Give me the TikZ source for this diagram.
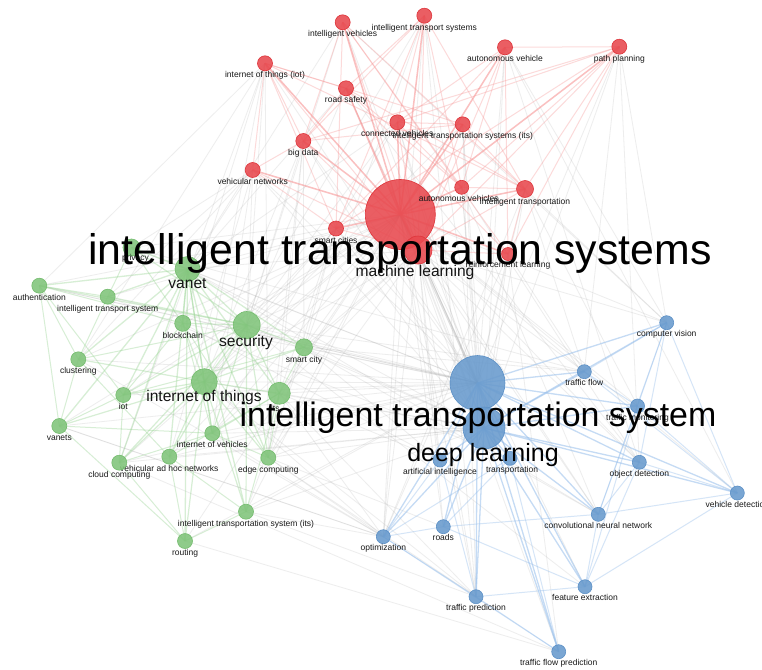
\documentclass[tikz,border=0pt]{standalone}
\usepackage{fontspec}
\setmainfont{Liberation Sans}
\pgfdeclarelayer{paper}
\pgfdeclarelayer{links}
\pgfsetlayers{paper,links,main}

\definecolor{redfill}{RGB}{232,72,78}
\definecolor{redline}{RGB}{222,52,58}
\definecolor{greenfill}{RGB}{128,196,122}
\definecolor{greenline}{RGB}{116,188,110}
\definecolor{bluefill}{RGB}{104,154,205}
\definecolor{blueline}{RGB}{92,144,198}
\definecolor{redlink}{RGB}{247,150,150}
\definecolor{greenlink}{RGB}{160,215,155}
\definecolor{bluelink}{RGB}{150,190,235}
\definecolor{greylink}{RGB}{175,175,175}

\tikzset{
  rkw/.style={circle, inner sep=0pt, minimum size=#1pt, draw=redline, fill=redfill, fill opacity=0.88, line width=0.6pt},
  gkw/.style={circle, inner sep=0pt, minimum size=#1pt, draw=greenline, fill=greenfill, fill opacity=0.88, line width=0.6pt},
  bkw/.style={circle, inner sep=0pt, minimum size=#1pt, draw=blueline, fill=bluefill, fill opacity=0.88, line width=0.6pt},
  lab/.style={font=\fontsize{8.5}{9}\selectfont, text=black!90, inner sep=0pt},
  every label/.style={lab},
  label distance=0.5pt,
  midlab/.style={font=\fontsize{15.6}{16}\selectfont, text=black!92, inner sep=0pt, anchor=base},
  hugelab/.style={font=\fontsize{#1}{#1}\selectfont, text=black, inner sep=0pt, anchor=base},
  rededge/.style={draw=redlink, line width=1pt, opacity=0.35},
  greenedge/.style={draw=greenlink, line width=1pt, opacity=0.42},
  blueedge/.style={draw=bluelink, line width=1pt, opacity=0.4},
  greyedge/.style={draw=greylink, line width=0.8pt, opacity=0.22},
}

\begin{document}
\begin{tikzpicture}[x=1pt, y=-1pt]
\useasboundingbox (0,0) rectangle (762,669);
\begin{pgfonlayer}{paper}
\fill[white] (0,0) rectangle (762,669);
\end{pgfonlayer}

% ---- red cluster ----
\node[rkw=70] (rITS) at (400.3,214.5) {};
\node[rkw=28] (rML) at (418,250) {};
\node[rkw=15, label={below:intelligent vehicles}] (rIV) at (342.7,22.3) {};
\node[rkw=15, label={below:intelligent transport systems}] (rITSys) at (424.3,15.7) {};
\node[rkw=15, label={below:internet of things (iot)}] (rIoT) at (265,63.3) {};
\node[rkw=15, label={below:road safety}] (rRS) at (346,88.3) {};
\node[rkw=15, label={below:autonomous vehicle}] (rAV) at (505,47.3) {};
\node[rkw=15, label={below:path planning}] (rPP) at (619.3,46.7) {};
\node[rkw=15, label={below:connected vehicles}] (rCV) at (397.3,122.3) {};
\node[rkw=15, label={below:intelligent transportation systems (its)}] (rITSits) at (462.7,124.3) {};
\node[rkw=15, label={below:big data}] (rBD) at (303.3,141) {};
\node[rkw=15, label={below:vehicular networks}] (rVN) at (252.7,170) {};
\node[rkw=14, label={[xshift=-3pt]below:autonomous vehicles}] (rAVs) at (461.7,187.3) {};
\node[rkw=17, label={below:intelligent transportation}] (rIT) at (525,189) {};
\node[rkw=15, label={below:smart cities}] (rSC) at (336,228.5) {};
\node[rkw=13, label={below:reinforcement learning}] (rRL) at (508,254) {};

% ---- green cluster ----
\node[gkw=17, label={[xshift=4pt,yshift=3pt]below:privacy}] (gPriv) at (131.5,247.5) {};
\node[gkw=25] (gVanet) at (187.5,269) {};
\node[gkw=15, label={below:authentication}] (gAuth) at (39.3,285.7) {};
\node[gkw=15, label={below:intelligent transport system}] (gITS1) at (107.7,296.7) {};
\node[gkw=16, label={below:blockchain}] (gBC) at (182.7,323.3) {};
\node[gkw=27] (gSec) at (246.7,325) {};
\node[gkw=17, label={below:smart city}] (gSCity) at (304,347.3) {};
\node[gkw=15, label={below:clustering}] (gClus) at (78.3,359.3) {};
\node[gkw=26] (gIoT) at (204.3,381.7) {};
\node[gkw=22, label={[xshift=-4pt]below:its}] (gIts) at (279.3,393.3) {};
\node[gkw=15, label={below:iot}] (gIot2) at (123.3,395) {};
\node[gkw=15, label={below:vanets}] (gVanets) at (59.3,426) {};
\node[gkw=15, label={below:internet of vehicles}] (gIoV) at (212.3,433.3) {};
\node[gkw=15, label={below:vehicular ad hoc networks}] (gVAN) at (169.3,456.7) {};
\node[gkw=15, label={below:cloud computing}] (gCC) at (119.3,462.7) {};
\node[gkw=15, label={below:edge computing}] (gEC) at (268.3,457.7) {};
\node[gkw=15, label={below:intelligent transportation system (its)}] (gITSits) at (246,511.7) {};
\node[gkw=15, label={below:routing}] (gRout) at (185,541) {};

% ---- blue cluster ----
\node[bkw=55] (bITS) at (477.5,383) {};
\node[bkw=42] (bDL) at (484,428) {};
\node[bkw=14, label={below:computer vision}] (bCVis) at (666.7,322.7) {};
\node[bkw=14, label={below:traffic flow}] (bTF) at (584.3,371.7) {};
\node[bkw=14, label={below:traffic monitoring}] (bHid) at (637.5,406) {};
\node[bkw=14, label={below:object detection}] (bOD) at (639.3,462.3) {};
\node[bkw=14, label={below:vehicle detection}] (bVD) at (737.3,493) {};
\node[bkw=14, label={below:artificial intelligence}] (bAI) at (440,460) {};
\node[bkw=14, label={[xshift=2pt]below:transportation}] (bTr) at (510,458.3) {};
\node[bkw=14, label={below:convolutional neural network}] (bCNN) at (598.3,514.3) {};
\node[bkw=14, label={below:roads}] (bRoads) at (443.3,526.7) {};
\node[bkw=14, label={below:optimization}] (bOpt) at (383.3,536.7) {};
\node[bkw=14, label={below:feature extraction}] (bFE) at (585,586.7) {};
\node[bkw=14, label={below:traffic prediction}] (bTP) at (476,596.7) {};
\node[bkw=14, label={below:traffic flow prediction}] (bTFP) at (558.7,651.7) {};

\begin{pgfonlayer}{links}
% links between clusters
\foreach \b in {gVanet,gSec,gIoT,gIts,gBC,gSCity,gIoV,gEC,gAuth,gITS1,gClus,gIot2,gCC,gVAN,gITSits,gPriv,gRout,gVanets,
                bAI,bTr,bCVis,bTF,bHid,bOD,bVD,bCNN,bRoads,bOpt,bFE,bTP,bTFP}
  \draw[greyedge] (rITS.center) -- (\b.center);
\draw[greyedge, line width=2.2pt] (rITS.center) -- (bITS.center);
\draw[greyedge, line width=1.6pt] (rITS.center) -- (bDL.center);
\foreach \b in {gVanet,gSec,gIoT,gIts,gBC,gSCity,gIoV,gEC,gVAN,gCC,gVanets,gITSits,gRout,gClus,gAuth,gITS1,gPriv,gIot2,
                rML,rBD,rVN,rSC,rIT,rAVs,rCV,rITSits,rIoT,rIV,rITSys,rRS,rAV,rPP,rRL}
  \draw[greyedge] (bITS.center) -- (\b.center);
\foreach \b in {rML,gIoT,gSCity,rRL,rIT,rPP,gEC,gIts,gSec,gVanet,rBD,rSC,rAVs,rITSits,gITSits,gIoV,gVAN,gCC,rVN,rCV,rAV}
  \draw[greyedge] (bDL.center) -- (\b.center);
\foreach \a/\b in {rML/bAI,rML/bTr,rML/bOpt,rML/gSec,rML/gIoT,rML/gVanet,rML/gSCity,rML/bTF,rML/bCNN,rML/bRoads,
                   rML/gIts,rML/gEC,rML/gIoV,rML/bOD,rML/bCVis,rML/bTP,
                   rBD/gIoT,rBD/gSec,rBD/gSCity,rBD/gIts,rBD/gEC,rSC/gSCity,rSC/gIoT,rSC/gIts,rSC/gSec,rSC/gEC,
                   rVN/gVanet,rVN/gSec,rVN/gPriv,rVN/gVAN,rVN/gIoV,rVN/gClus,
                   rIoT/gIoT,rIoT/gSec,rIoT/gBC,rIoT/gAuth,rIoT/gEC,rIoT/gCC,rIV/gVanet,rIV/bCVis,rIV/gSec,
                   rITSys/gIoT,rITSys/bOpt,rITSys/gITSits,rITSys/bTP,rRS/gVanet,rRS/gSec,rRS/bOD,
                   rPP/bCVis,rPP/bTF,rPP/bOD,rAV/bOD,rAV/bCVis,rAV/bVD,rIT/bTF,rIT/bHid,rIT/bCVis,rIT/bOpt,
                   rCV/gVanet,rCV/gSec,rCV/gIoV,rRL/bOpt,rRL/bTF,rRL/bTFP,rITSits/bTP,rITSits/gIoT,rAVs/bOD,rAVs/bCNN,
                   gAuth/bITS,gClus/bOpt,gVanets/bOpt,gITSits/bTP,gRout/bTFP,gIts/bTP,gEC/bRoads,gCC/bTFP,
                   gSCity/bTF,gSCity/bCNN,gSec/bFE,gIoT/bTP,bOpt/gVanets,rVN/gITS1,rIoT/gClus,
                   gSCity/bAI,gIts/bAI,gIts/bOpt,gEC/bOpt,gIoV/bOpt,gEC/bTP,gITSits/bOpt,gSec/bTF,gVanet/bCNN,
                   gIoT/bOpt,gITS1/bTr,gPriv/bTF,gBC/bAI}
  \draw[greyedge] (\a.center) -- (\b.center);

% red links
\foreach \b in {rIV,rITSys,rIoT,rRS,rAV,rPP,rCV,rITSits,rBD,rVN,rAVs,rIT,rSC,rRL,rML}
  \draw[rededge, line width=1.5pt, opacity=0.6] (rITS.center) -- (\b.center);
\foreach \a/\b in {rIV/rAVs,rIV/rIT,rIV/rRL,rIV/rML,rITSys/rBD,rITSys/rSC,rITSys/rCV,rITSys/rIT,rITSys/rML,
                   rIoT/rBD,rIoT/rSC,rIoT/rRS,rIoT/rITSits,rIoT/rML,rIoT/rVN,rRS/rAVs,rRS/rIT,rRS/rML,
                   rAV/rPP,rAV/rAVs,rAV/rML,rAV/rRL,rAV/rSC,rPP/rIT,rPP/rAVs,rPP/rML,rPP/rRL,rPP/rCV,
                   rCV/rITSits,rCV/rAVs,rCV/rML,rITSits/rIT,rITSits/rML,rITSits/rBD,rBD/rML,rBD/rVN,
                   rVN/rSC,rVN/rML,rIT/rAVs,rIT/rML,rIT/rRL,rSC/rML,rRL/rML,rRS/rBD,rITSys/rRS,
                   rPP/rSC,rPP/rBD,rITSys/rAVs,rIV/rBD,rIV/rSC,rAV/rCV,rIoT/rIT,rRS/rRL}
  \draw[rededge] (\a.center) -- (\b.center);

% green links
\foreach \b in {gPriv,gAuth,gITS1,gBC,gSec,gSCity,gClus,gIoT,gIts,gIot2,gVanets,gIoV,gVAN,gCC,gEC,gRout,gITSits}
  \draw[greenedge, line width=1.3pt] (gVanet.center) -- (\b.center);
\foreach \b in {gPriv,gAuth,gBC,gIoT,gIts,gIot2,gIoV,gVAN,gCC,gEC,gSCity,gITSits,gITS1}
  \draw[greenedge, line width=1.2pt] (gSec.center) -- (\b.center);
\foreach \b in {gBC,gIts,gIot2,gIoV,gCC,gEC,gSCity,gVAN,gITSits,gRout,gVanets,gClus}
  \draw[greenedge, line width=1.2pt] (gIoT.center) -- (\b.center);
\foreach \a/\b in {gIts/gIoV,gIts/gEC,gIts/gITSits,gIts/gSCity,gIts/gVAN,gAuth/gITS1,gAuth/gVanets,gAuth/gClus,
                   gAuth/gBC,gIot2/gVanets,gIot2/gCC,gIot2/gBC,gCC/gIoV,gVAN/gRout,gITSits/gRout,gITSits/gVAN,
                   gEC/gIoV,gClus/gVanets,gClus/gVAN,gPriv/gITS1,gPriv/gBC,gITS1/gClus,gVanets/gRout,gCC/gRout,
                   gClus/gSec,gIot2/gSCity,gVanets/gIoV,gBC/gIoV,gBC/gEC,gAuth/gIot2}
  \draw[greenedge] (\a.center) -- (\b.center);

% blue links
\foreach \b in {bDL,bCVis,bTF,bHid,bOD,bVD,bAI,bTr,bCNN,bRoads,bOpt,bFE,bTP,bTFP}
  \draw[blueedge, line width=1.3pt, opacity=0.55] (bITS.center) -- (\b.center);
\foreach \b in {bCVis,bTF,bHid,bOD,bVD,bAI,bTr,bCNN,bRoads,bOpt,bFE,bTP,bTFP}
  \draw[blueedge, line width=1.3pt, opacity=0.55] (bDL.center) -- (\b.center);
\foreach \a/\b in {bCVis/bTF,bCVis/bOD,bCVis/bVD,bCVis/bCNN,bCVis/bHid,bOD/bVD,bOD/bCNN,bCNN/bVD,bCNN/bFE,
                   bRoads/bFE,bRoads/bOpt,bOpt/bTP,bOpt/bTFP,bTP/bTFP,bTr/bTFP,bFE/bVD,bHid/bVD,bOpt/bTr,
                   bRoads/bTr,bRoads/bCNN,bAI/bOpt,bAI/bTP,bTF/bHid,bTP/bFE,bHid/bCNN,bHid/bFE,bOD/bFE,bTF/bVD}
  \draw[blueedge] (\a.center) -- (\b.center);
\end{pgfonlayer}

% cluster headings
\node[midlab] (tML) at (415,276) {machine learning};
\node[midlab] (tVanet) at (187.5,288) {vanet};
\node[midlab] (tSec) at (246,346) {security};
\node[midlab] (tIoT) at (204,401) {internet of things};
\node[hugelab=25] (tDL) at (483,461) {deep learning};
\node[hugelab=33.9] (tBITS) at (478,426) {intelligent transportation system};
\node[hugelab=42.8] (tRITS) at (400,264) {intelligent transportation systems};
\end{tikzpicture}
\end{document}
